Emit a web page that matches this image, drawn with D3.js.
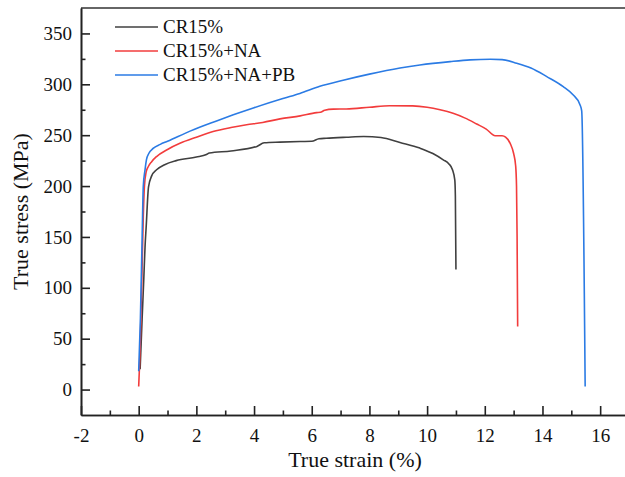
<!DOCTYPE html>
<html>
<head>
    <meta charset="utf-8">
    <script src="https://d3js.org/d3.v7.min.js"></script>
    <style>
        body {
            margin: 0;
            background-color: white;
        }

        svg {
            display: block;
        }

        .axis path,
        .axis line {
            stroke: #222;
            stroke-width: 1.6;
        }

        .axis text {
            fill: #111;
        }

        .curve {
            fill: none;
            stroke-width: 1.6;
            stroke-linejoin: round;
        }
    </style>
</head>
<body>
    <div id="graph"></div>
    <script>
        // CR15%
        const strainA = [0.05, 0.12, 0.18, 0.22, 0.26, 0.34, 0.45, 0.62, 0.9, 1.3, 2.0, 2.35, 2.45, 3.2, 4.1, 4.35, 4.9, 5.6, 6.0, 6.25, 6.5, 7.2, 7.8, 8.4, 9.06, 9.75, 10.2, 10.56, 10.75, 10.88, 10.96, 10.98, 11.0]
        const stressA = [20, 70, 111, 140, 160, 199, 210, 216, 221, 225, 228.5, 231, 232.5, 234.5, 239, 242.5, 243.2, 243.8, 244, 246.5, 247, 248, 248.7, 247.7, 242.8, 237.3, 232, 225.8, 222, 216, 206, 190, 118]

        // CR15%+NA
        const strainB = [0, 0.06, 0.11, 0.16, 0.2, 0.26, 0.33, 0.45, 0.62, 1.0, 1.43, 2.0, 2.58, 3.2, 3.74, 4.3, 4.9, 5.6, 6.17, 6.3, 6.45, 6.75, 7.2, 8.0, 8.7, 9.5, 10.0, 10.45, 10.9, 11.3, 11.72, 12.05, 12.36, 12.6, 12.72, 12.88, 13.0, 13.07, 13.1, 13.12, 13.14]
        const stressB = [3, 50, 110, 170, 200, 214, 219, 224, 229, 236, 242, 248, 253.6, 257.5, 260.2, 262.5, 266, 269, 272.2, 272.5, 274.5, 275.6, 275.8, 277.5, 279, 278.8, 277.5, 275, 271.5, 267, 261, 256, 249.5, 249.4, 248, 242, 232, 220, 200, 150, 62]

        // CR15%+NA+PB
        const strainC = [0, 0.06, 0.12, 0.16, 0.22, 0.27, 0.35, 0.5, 0.75, 1.0, 1.78, 2.7, 3.28, 4.0, 5.0, 5.59, 6.28, 7.09, 8.0, 9.06, 9.75, 10.8, 11.49, 12.2, 12.6, 13.11, 13.6, 14.15, 14.72, 15.05, 15.3, 15.36, 15.48]
        const stressC = [18, 70, 150, 200, 216, 226, 232, 237, 241, 244, 254, 264, 270, 277, 286, 291, 298, 304, 310, 316, 319, 322.3, 324, 324.6, 324.3, 320.7, 316, 307.6, 297.8, 290, 280, 274, 3]

        const seriesNames = ['CR15%', 'CR15%+NA', 'CR15%+NA+PB']
        const seriesColors = ['#404040', '#f23c3c', '#2b7be4']

        const xTicks = [-2, 0, 2, 4, 6, 8, 10, 12, 14, 16]
        const xMinor = d3.range(-1, 17, 2)
        const yTicks = [0, 50, 100, 150, 200, 250, 300, 350]
        const yMinor = d3.range(25, 375, 50)

        const serif = '"Liberation Serif", Tinos, "Times New Roman", "DejaVu Serif", serif'

        const w = 625
        const h = 477
        const padL = 81, padT = 8, axisY = 415, padR = 629

        const svg = d3.select('#graph')
            .append('svg')
            .attr('width', w)
            .attr('height', h)

        const xScale = d3.scaleLinear().domain([-2, 17]).range([padL, padR])
        const yScale = d3.scaleLinear().domain([-25, 375]).range([axisY, padT])

        // frame top
        svg.append('line')
            .attr('x1', padL).attr('x2', padR)
            .attr('y1', padT).attr('y2', padT)
            .attr('stroke', '#333')
            .attr('stroke-width', 1.6)

        svg.append('g')
            .attr('class', 'axis')
            .attr('transform', `translate(0, ${axisY})`)
            .call(d3.axisBottom(xScale).tickValues(xMinor).tickSize(-4.5).tickSizeOuter(0).tickFormat(''))

        svg.append('g')
            .attr('class', 'axis')
            .attr('transform', `translate(${padL}, 0)`)
            .call(d3.axisLeft(yScale).tickValues(yMinor).tickSize(-4.5).tickSizeOuter(0).tickFormat(''))

        svg.append('g')
            .attr('class', 'axis')
            .attr('transform', `translate(0, ${axisY})`)
            .call(d3.axisBottom(xScale).tickValues(xTicks).tickSize(-9).tickSizeOuter(0).tickPadding(14)
                .tickFormat(d => String(d)))

        svg.append('g')
            .attr('class', 'axis')
            .attr('transform', `translate(${padL}, 0)`)
            .call(d3.axisLeft(yScale).tickValues(yTicks).tickSize(-9).tickSizeOuter(0).tickPadding(9))

        svg.selectAll('.axis')
            .attr('font-family', serif)
            .attr('font-size', 19)

        const line = d3.line()
            .x(d => xScale(d[0]))
            .y(d => yScale(d[1]))
            .curve(d3.curveMonotoneX)

        const all = [
            d3.zip(strainA, stressA),
            d3.zip(strainB, stressB),
            d3.zip(strainC, stressC)
        ]

        svg.selectAll('.curve')
            .data(all)
            .enter()
            .append('path')
            .attr('class', 'curve')
            .attr('stroke', (d, i) => seriesColors[i])
            .attr('d', line)

        // legend
        const legend = svg.append('g')
            .attr('font-family', serif)
        seriesNames.forEach((name, i) => {
            const y = 27 + i * 24
            legend.append('line')
                .attr('x1', 115).attr('x2', 158)
                .attr('y1', y).attr('y2', y)
                .attr('stroke', seriesColors[i])
                .attr('stroke-width', 1.6)
            legend.append('text')
                .attr('x', 163)
                .attr('y', y)
                .attr('dy', '0.34em')
                .attr('font-size', 19)
                .attr('fill', '#111')
                .text(name)
        })

        svg.append('text')
            .attr('x', (padL + padR) / 2)
            .attr('y', 467)
            .attr('text-anchor', 'middle')
            .attr('font-family', serif)
            .attr('font-size', 22)
            .attr('fill', '#111')
            .text('True strain (%)')

        svg.append('text')
            .attr('transform', `translate(28, ${(padT + axisY) / 2}) rotate(-90)`)
            .attr('text-anchor', 'middle')
            .attr('font-family', serif)
            .attr('font-size', 22)
            .attr('fill', '#111')
            .text('True stress (MPa)')
    </script>
</body>
</html>
